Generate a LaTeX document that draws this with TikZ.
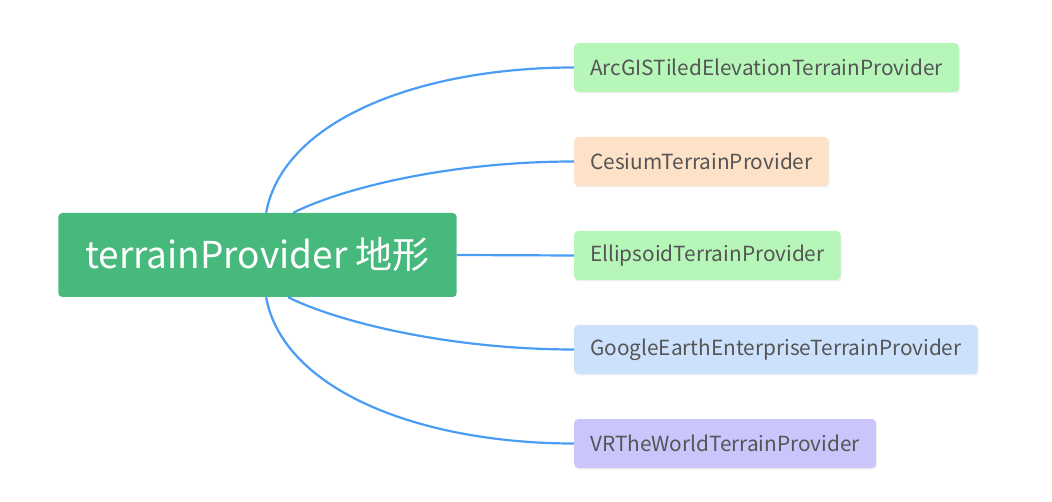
\documentclass[tikz,border=0pt]{standalone}
\usepackage{fontspec}
\setmainfont{Noto Sans CJK SC}
\usetikzlibrary{positioning,shadows}
\definecolor{rootgreen}{HTML}{48B97D}
\definecolor{leafgreen}{HTML}{B6F6B8}
\definecolor{leafpeach}{HTML}{FDE2C8}
\definecolor{leafblue}{HTML}{CCE2FC}
\definecolor{leafviolet}{HTML}{CAC5FB}
\definecolor{leaftext}{HTML}{555555}
\definecolor{linkblue}{HTML}{4A9CF5}

\begin{document}
\begin{tikzpicture}[x=1pt, y=-1pt,
    root/.style={rectangle, rounded corners=4pt, fill=rootgreen, text=white,
        font=\fontsize{37}{44}\selectfont, inner xsep=27pt, minimum height=84pt},
    leaf/.style={rectangle, rounded corners=4pt, anchor=west, text=leaftext,
        font=\fontsize{20.8}{25}\selectfont, inner xsep=16pt, minimum height=49pt,
        drop shadow={opacity=0.12, shadow xshift=1pt, shadow yshift=-1.5pt}},
    link/.style={draw=linkblue, line width=2.2pt}]
    \useasboundingbox (0,0) rectangle (1052,502);

    \node[root] (root) at (257.5, 255) {terrainProvider 地形};

    \node[leaf, fill=leafgreen] (arcgis) at (574, 67.5) {ArcGISTiledElevationTerrainProvider};
    \node[leaf, fill=leafpeach] (cesium) at (574, 161.5) {CesiumTerrainProvider};
    \node[leaf, fill=leafgreen] (ellipsoid) at (574, 255.5) {EllipsoidTerrainProvider};
    \node[leaf, fill=leafblue] (google) at (574, 349.5) {GoogleEarthEnterpriseTerrainProvider};
    \node[leaf, fill=leafviolet] (vrworld) at (574, 443.5) {VRTheWorldTerrainProvider};

    % branches
    \draw[link] ([xshift=208pt]root.north west) .. controls +(17,-93) and +(-154,0) .. (arcgis.west);
    \draw[link] ([xshift=235pt]root.north west) .. controls +(50,-25) and +(-124,0) .. (cesium.west);
    \draw[link] (root.east) -- (ellipsoid.west);
    \draw[link] ([xshift=230pt]root.south west) .. controls +(50,25) and +(-124,0) .. (google.west);
    \draw[link] ([xshift=208pt]root.south west) .. controls +(17,93) and +(-154,0) .. (vrworld.west);
\end{tikzpicture}
\end{document}
